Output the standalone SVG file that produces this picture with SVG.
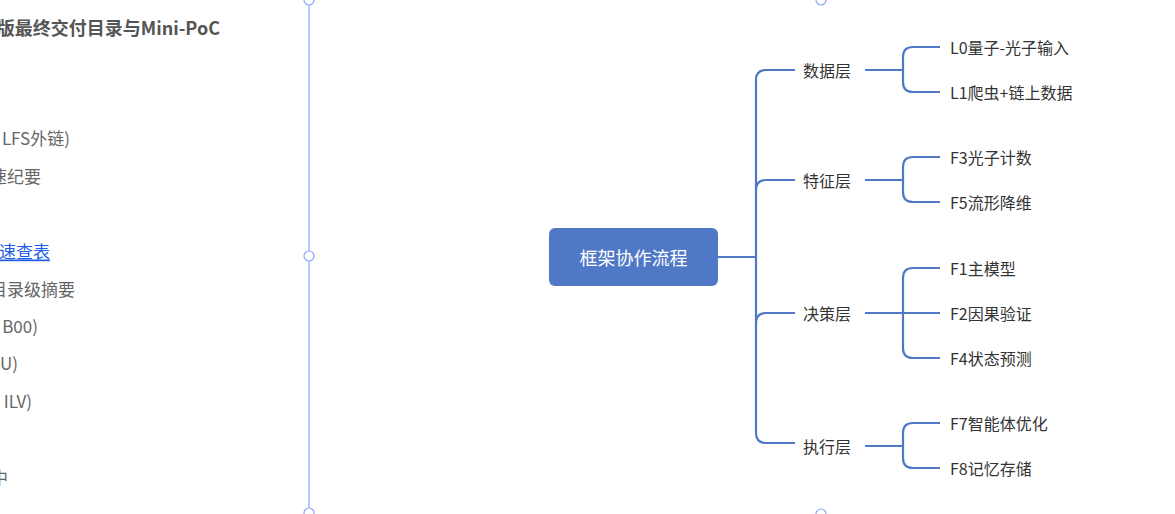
<svg xmlns="http://www.w3.org/2000/svg" width="1175" height="514" viewBox="0 0 1175 514">
<style>
.t{font-family:"Noto Sans CJK SC","Noto Sans",sans-serif;font-size:16px;fill:#333;dominant-baseline:central}
.l{font-family:"Noto Sans CJK SC","Noto Sans",sans-serif;font-size:17px;fill:#666;dominant-baseline:central}
.c{fill:none;stroke:#4f78c6;stroke-width:2.2}
.h{fill:#fff;stroke:#8aa8f0;stroke-width:1.2}
</style>
<rect width="1175" height="514" fill="#fff"/>
<g id="left-panel">
<text class="l" x="220" y="27" text-anchor="end" style="font-weight:bold;fill:#555;font-size:18px">版最终交付目录与Mini-PoC</text>
<text class="l" x="70" y="137" text-anchor="end">LFS外链)</text>
<text class="l" x="41" y="175" text-anchor="end">速纪要</text>
<text class="l" x="50" y="250" text-anchor="end" style="fill:#1a5ee6;text-decoration:underline">速查表</text>
<text class="l" x="75" y="288" text-anchor="end">目录级摘要</text>
<text class="l" x="38" y="325" text-anchor="end">B00)</text>
<text class="l" x="18" y="362" text-anchor="end">U)</text>
<text class="l" x="32" y="400" text-anchor="end">ILV)</text>
<text class="l" x="8" y="476" text-anchor="end">中</text>
</g>
<g id="handles">
<line x1="309" y1="0" x2="309" y2="514" stroke="#b8cbff" stroke-width="2"/>
<circle class="h" cx="309" cy="0" r="5"/>
<circle class="h" cx="309" cy="256" r="5"/>
<circle class="h" cx="309" cy="513" r="5"/>
<circle class="h" cx="821" cy="0" r="5"/>
<circle class="h" cx="821" cy="514" r="5"/>
</g>
<g id="connectors">
<path class="c" d="M718 257H756"/>
<path class="c" d="M795 70H766Q756 70 756 80V433Q756 443 766 443H795"/>
<path class="c" d="M756 190Q756 180 766 180H795"/>
<path class="c" d="M756 323Q756 313 766 313H795"/>
<path class="c" d="M865 70H903M940 47H913Q903 47 903 57V82Q903 92 913 92H940"/>
<path class="c" d="M865 180H903M940 157H913Q903 157 903 167V192Q903 202 913 202H940"/>
<path class="c" d="M865 313H940M940 268H913Q903 268 903 278V348Q903 358 913 358H940"/>
<path class="c" d="M865 446H903M940 423H913Q903 423 903 433V458Q903 468 913 468H940"/>
</g>
<g id="root"><rect x="549" y="228" width="169" height="58" rx="6" fill="#4f78c6"/>
<text class="t" x="633.5" y="257" text-anchor="middle" style="fill:#fff;font-size:18px">框架协作流程</text></g>
<g id="b1"><text class="t" x="803" y="70">数据层</text></g>
<g id="b2"><text class="t" x="803" y="180">特征层</text></g>
<g id="b3"><text class="t" x="803" y="313">决策层</text></g>
<g id="b4"><text class="t" x="803" y="446">执行层</text></g>
<g id="n1"><text class="t" x="950" y="47">L0量子-光子输入</text></g>
<g id="n2"><text class="t" x="950" y="92">L1爬虫+链上数据</text></g>
<g id="n3"><text class="t" x="950" y="157">F3光子计数</text></g>
<g id="n4"><text class="t" x="950" y="202">F5流形降维</text></g>
<g id="n5"><text class="t" x="950" y="268">F1主模型</text></g>
<g id="n6"><text class="t" x="950" y="313">F2因果验证</text></g>
<g id="n7"><text class="t" x="950" y="358">F4状态预测</text></g>
<g id="n8"><text class="t" x="950" y="423">F7智能体优化</text></g>
<g id="n9"><text class="t" x="950" y="468">F8记忆存储</text></g>
</svg>
